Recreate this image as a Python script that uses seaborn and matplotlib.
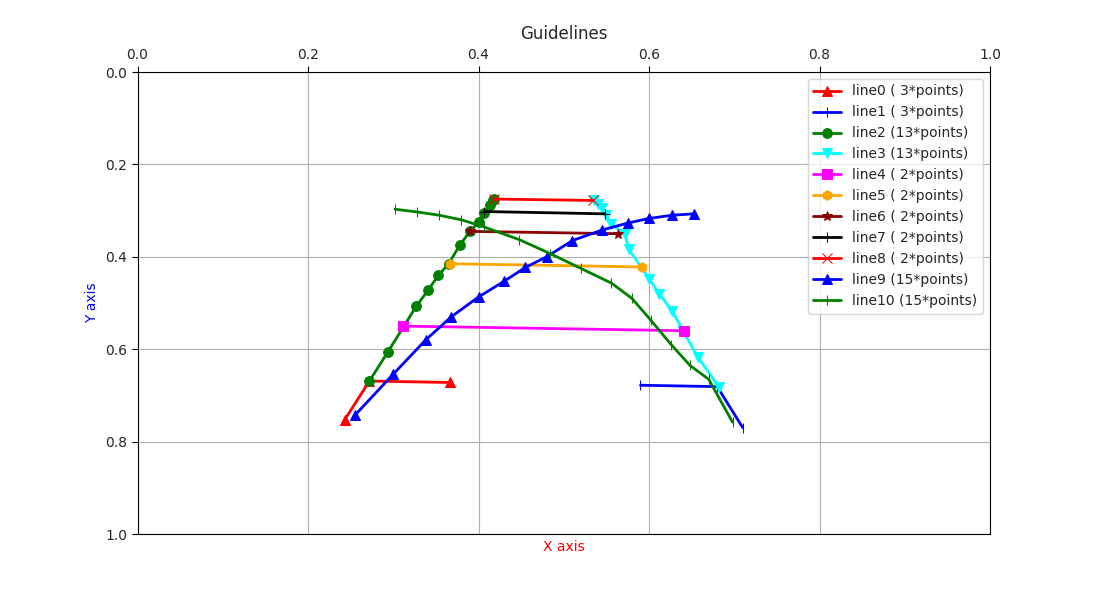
import matplotlib
matplotlib.use("Agg")
import matplotlib.pyplot as plt
import seaborn as sns
import pandas as pd

sns.set_style("white")
plt.rcParams["font.family"] = ["DejaVu Sans"]

line0_x = [0.243, 0.272, 0.366]
line0_y = [0.753, 0.669, 0.672]
line1_x = [0.590, 0.680, 0.710]
line1_y = [0.678, 0.681, 0.770]
line2_x = [0.272, 0.294, 0.327, 0.341, 0.353, 0.365, 0.378, 0.390, 0.400, 0.407, 0.413, 0.417, 0.418]
line2_y = [0.669, 0.605, 0.507, 0.472, 0.440, 0.415, 0.375, 0.345, 0.325, 0.305, 0.288, 0.278, 0.275]
line3_x = [0.536, 0.540, 0.545, 0.550, 0.556, 0.572, 0.576, 0.600, 0.612, 0.627, 0.640, 0.657, 0.682]
line3_y = [0.277, 0.285, 0.295, 0.310, 0.330, 0.350, 0.383, 0.447, 0.480, 0.517, 0.560, 0.616, 0.682]
line4_x = [0.312, 0.641]
line4_y = [0.550, 0.560]
line5_x = [0.366, 0.592]
line5_y = [0.415, 0.422]
line6_x = [0.390, 0.564]
line6_y = [0.345, 0.350]
line7_x = [0.407, 0.548]
line7_y = [0.302, 0.307]
line8_x = [0.418, 0.534]
line8_y = [0.275, 0.278]
line9_x = [0.255, 0.300, 0.338, 0.368, 0.400, 0.430, 0.455, 0.480, 0.510, 0.545, 0.575, 0.600, 0.627, 0.653]
line9_y = [0.743, 0.654, 0.580, 0.530, 0.487, 0.453, 0.423, 0.400, 0.365, 0.342, 0.327, 0.317, 0.310, 0.307]
line10_x = [0.302, 0.328, 0.354, 0.380, 0.406, 0.448, 0.484, 0.520, 0.556, 0.580, 0.602, 0.626, 0.648, 0.670, 0.698]
line10_y = [0.297, 0.303, 0.310, 0.320, 0.335, 0.363, 0.393, 0.425, 0.457, 0.490, 0.537, 0.590, 0.635, 0.665, 0.758]

lines = [
    (line0_x, line0_y, "red", "^", 3),
    (line1_x, line1_y, "blue", "|", 3),
    (line2_x, line2_y, "green", "o", 13),
    (line3_x, line3_y, "cyan", "v", 13),
    (line4_x, line4_y, "magenta", "s", 2),
    (line5_x, line5_y, "orange", "h", 2),
    (line6_x, line6_y, "darkred", "*", 2),
    (line7_x, line7_y, "black", "+", 2),
    (line8_x, line8_y, "red", "x", 2),
    (line9_x, line9_y, "blue", "^", 15),
    (line10_x, line10_y, "green", "|", 15),
]

fig, ax = plt.subplots(figsize=(11, 6), dpi=100)
for i, (xs, ys, color, marker, n) in enumerate(lines):
    df = pd.DataFrame({"x": xs, "y": ys})
    label = f"line{i} ({n:2d}*points)"
    sns.lineplot(data=df, x="x", y="y", sort=False, estimator=None, ax=ax,
                 color=color, marker=marker, linewidth=2, markersize=7,
                 markeredgecolor=color, label=label)

ax.set_xlim(0, 1)
ax.set_ylim(1, 0)
ax.xaxis.tick_top()
ax.set_xlabel("X axis", color="red")
ax.set_ylabel("Y axis", color="blue")
ax.set_title("Guidelines")
ax.grid(True, color="#b0b0b0")
for s in ax.spines.values():
    s.set_color("black")
ax.tick_params(left=True, top=True, length=4, color="black")
ax.legend(loc="upper right")
fig.savefig("out.png", dpi=100)
